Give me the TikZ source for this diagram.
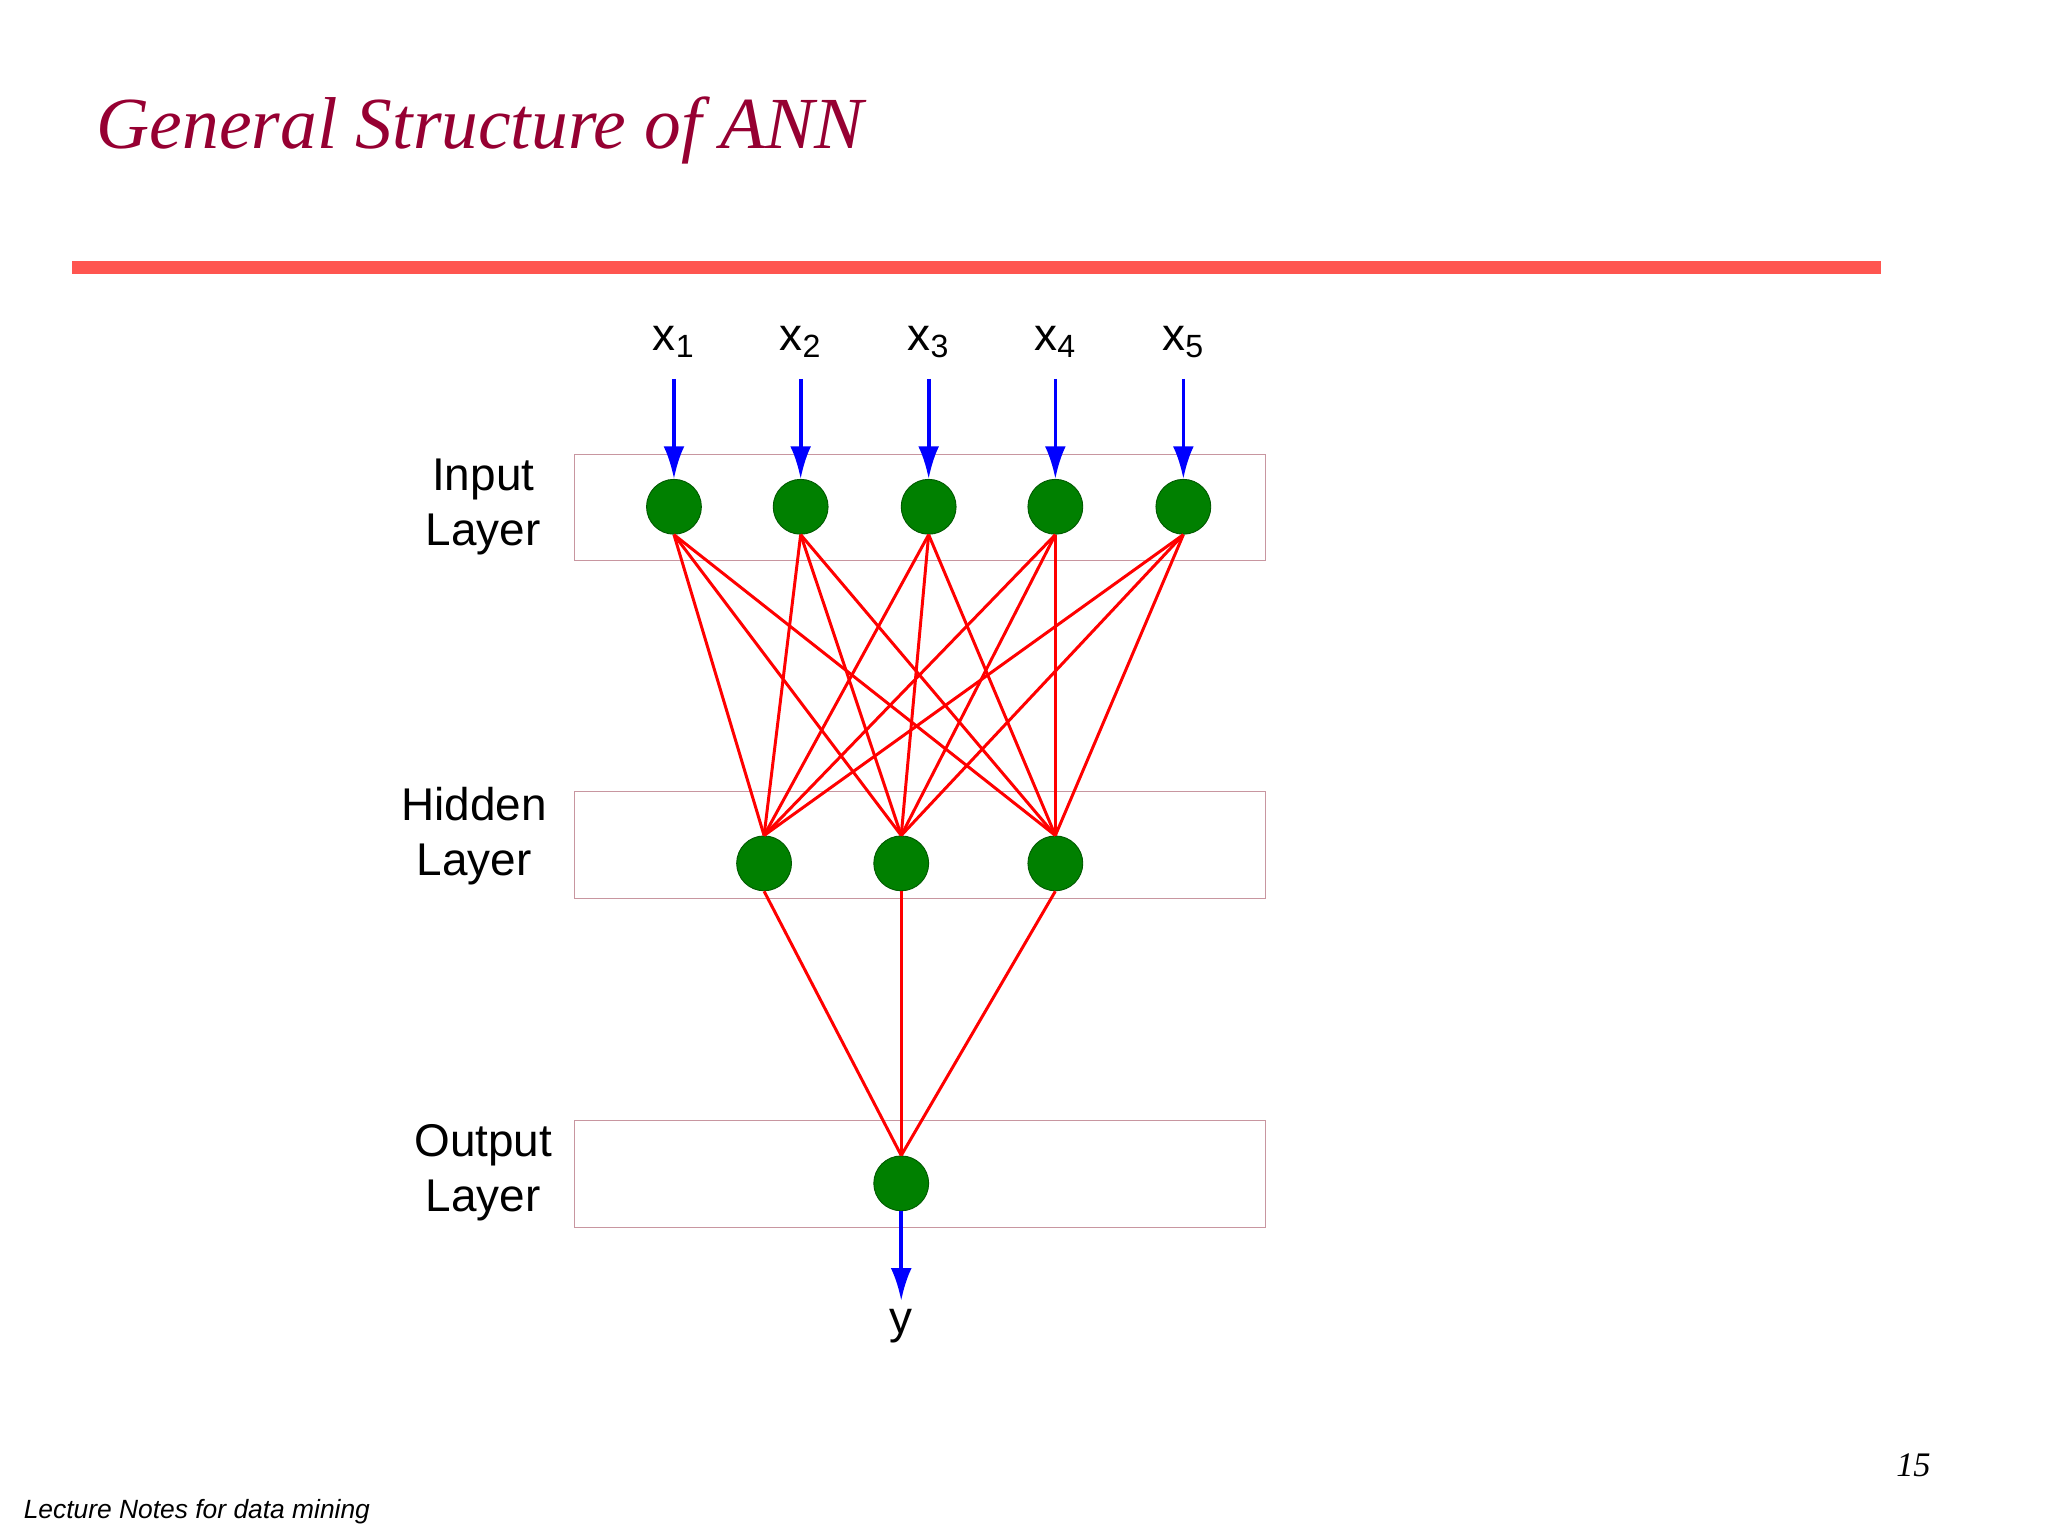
\documentclass[tikz,border=0pt]{standalone}
\usepackage{fontspec}
\setmainfont{Liberation Serif}
\setsansfont{Liberation Sans}
\usetikzlibrary{arrows.meta}
\definecolor{titlec}{RGB}{150,0,50}
\definecolor{barc}{RGB}{255,85,80}
\definecolor{boxc}{RGB}{200,150,160}
\definecolor{nodec}{RGB}{0,128,0}
\begin{document}
\begin{tikzpicture}[x=0.02cm,y=-0.02cm,
  neuron/.style={circle,fill=nodec,draw=nodec!70!black,minimum size=0.84cm,inner sep=0pt},
  layerbox/.style={draw=boxc,line width=0.6pt},
  conn/.style={red,line width=1.3pt},
  inarrow/.style={blue,line width=1.6pt,-{Latex[length=0.5cm,width=0.32cm]}},
  lbl/.style={font=\sffamily\fontsize{20}{24}\selectfont,align=center},
  xl/.style={font=\sffamily\fontsize{20}{24}\selectfont}]
\useasboundingbox (0,0) rectangle (1568,1176);
\node[anchor=west,font=\itshape\fontsize{32}{36}\selectfont,text=titlec] (title) at (68,100) {General Structure of ANN};
\fill[barc] (55,200) rectangle (1440,210);
\draw[layerbox] (440,348) rectangle (969,429);
\draw[layerbox] (440,606) rectangle (969,688);
\draw[layerbox] (440,858) rectangle (969,940);
\node[lbl] (li) at (370,388) {Input\\Layer};
\node[lbl] (lh) at (363,640) {Hidden\\Layer};
\node[lbl] (lo) at (370,898) {Output\\Layer};
\foreach \i/\x in {1/516,2/613,3/711,4/808,5/906}{
  \node[neuron] (i\i) at (\x,388) {};
  \node[xl] (x\i) at (\x,262) {x\textsubscript{\i}};
  \coordinate (t\i) at (\x,290);
  \draw[inarrow] (t\i) -- (i\i.north);
}
\foreach \j/\x in {1/585,2/690,3/808}{
  \node[neuron] (h\j) at (\x,661) {};
}
\node[neuron] (o) at (690,906) {};
\foreach \i in {1,...,5}{\foreach \j in {1,2,3}{\draw[conn] (i\i.south) -- (h\j.north);}}
\foreach \j in {1,2,3}{\draw[conn] (h\j.south) -- (o.north);}
\node[xl] (y) at (690,1015) {y};
\draw[inarrow] (o.south) -- (y.north);
\node[anchor=west,font=\sffamily\itshape\fontsize{11.5}{14}\selectfont] (foot) at (12,1157) {Lecture Notes for data mining};
\node[font=\itshape\fontsize{15}{18}\selectfont] (pg) at (1465,1122) {15};
\end{tikzpicture}
\end{document}
